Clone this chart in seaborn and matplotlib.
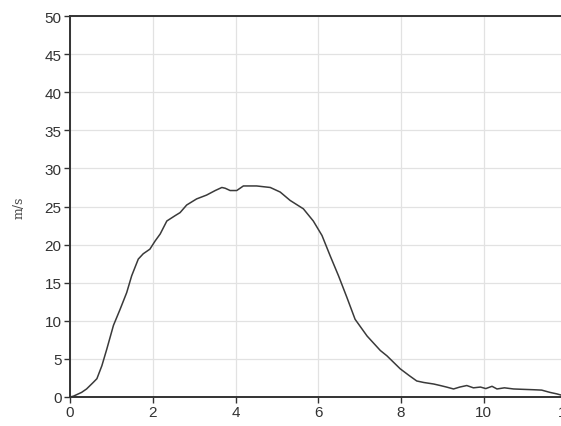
import matplotlib.pyplot as plt
import seaborn as sns
import pandas as pd

# time (s) and speed (m/s)
t = [0.0, 0.08, 0.28, 0.40, 0.56, 0.65, 0.77, 0.89, 1.05, 1.21, 1.37, 1.49, 1.65,
     1.77, 1.93, 2.06, 2.18, 2.34, 2.54, 2.66, 2.82, 3.06, 3.30, 3.51, 3.67, 3.75,
     3.87, 4.03, 4.19, 4.51, 4.84, 5.08, 5.32, 5.64, 5.88, 6.09, 6.29, 6.49, 6.69,
     6.89, 7.18, 7.50, 7.66, 7.98, 8.20, 8.38, 8.55, 8.79, 8.95, 9.10, 9.27, 9.42,
     9.59, 9.75, 9.92, 10.05, 10.20, 10.32, 10.50, 10.72, 10.95, 11.20, 11.40,
     11.60, 11.77, 11.90]
v = [0.0, 0.1, 0.6, 1.05, 1.9, 2.4, 4.1, 6.3, 9.4, 11.5, 13.7, 15.9, 18.1,
     18.8, 19.4, 20.5, 21.4, 23.1, 23.8, 24.2, 25.2, 26.0, 26.5, 27.1, 27.5, 27.4,
     27.1, 27.1, 27.7, 27.7, 27.5, 26.9, 25.8, 24.7, 23.1, 21.2, 18.5, 15.9, 13.1,
     10.2, 8.0, 6.1, 5.4, 3.7, 2.8, 2.1, 1.9, 1.7, 1.5, 1.3, 1.05, 1.3,
     1.5, 1.2, 1.3, 1.1, 1.4, 1.05, 1.2, 1.05, 1.0, 0.95, 0.9,
     0.6, 0.4, 0.2]

x_ticks = [0, 2, 4, 6, 8, 10, 12]
y_ticks = list(range(0, 55, 5))

df = pd.DataFrame({"t": t, "v": v})

sns.set_style("whitegrid")
plt.rcParams["font.family"] = ["Liberation Sans", "DejaVu Sans"]

fig = plt.figure(figsize=(5.61, 4.27), dpi=100)
ax = fig.add_axes([0.1248, 0.068, 0.885, 0.892])

sns.lineplot(data=df, x="t", y="v", ax=ax, color="#3a3a3a", linewidth=1.1)

ax.set_xlim(0, 12)
ax.set_ylim(0, 50)
ax.set_xticks(x_ticks)
ax.set_yticks(y_ticks)
ax.grid(True, color="#e2e2e2", linewidth=0.9)
for side in ["left", "bottom", "top"]:
    ax.spines[side].set_color("#333333")
    ax.spines[side].set_linewidth(1.4)
ax.spines["right"].set_visible(False)
ax.tick_params(axis="both", direction="out", length=4, width=1, color="#333333",
               labelsize=11, labelcolor="#333333", pad=2,
               left=True, bottom=True)
ax.set_xlabel("")
ax.set_ylabel("m/s", fontsize=9, color="#444444", family="DejaVu Serif", labelpad=14)

fig.savefig("out.png", dpi=100)
